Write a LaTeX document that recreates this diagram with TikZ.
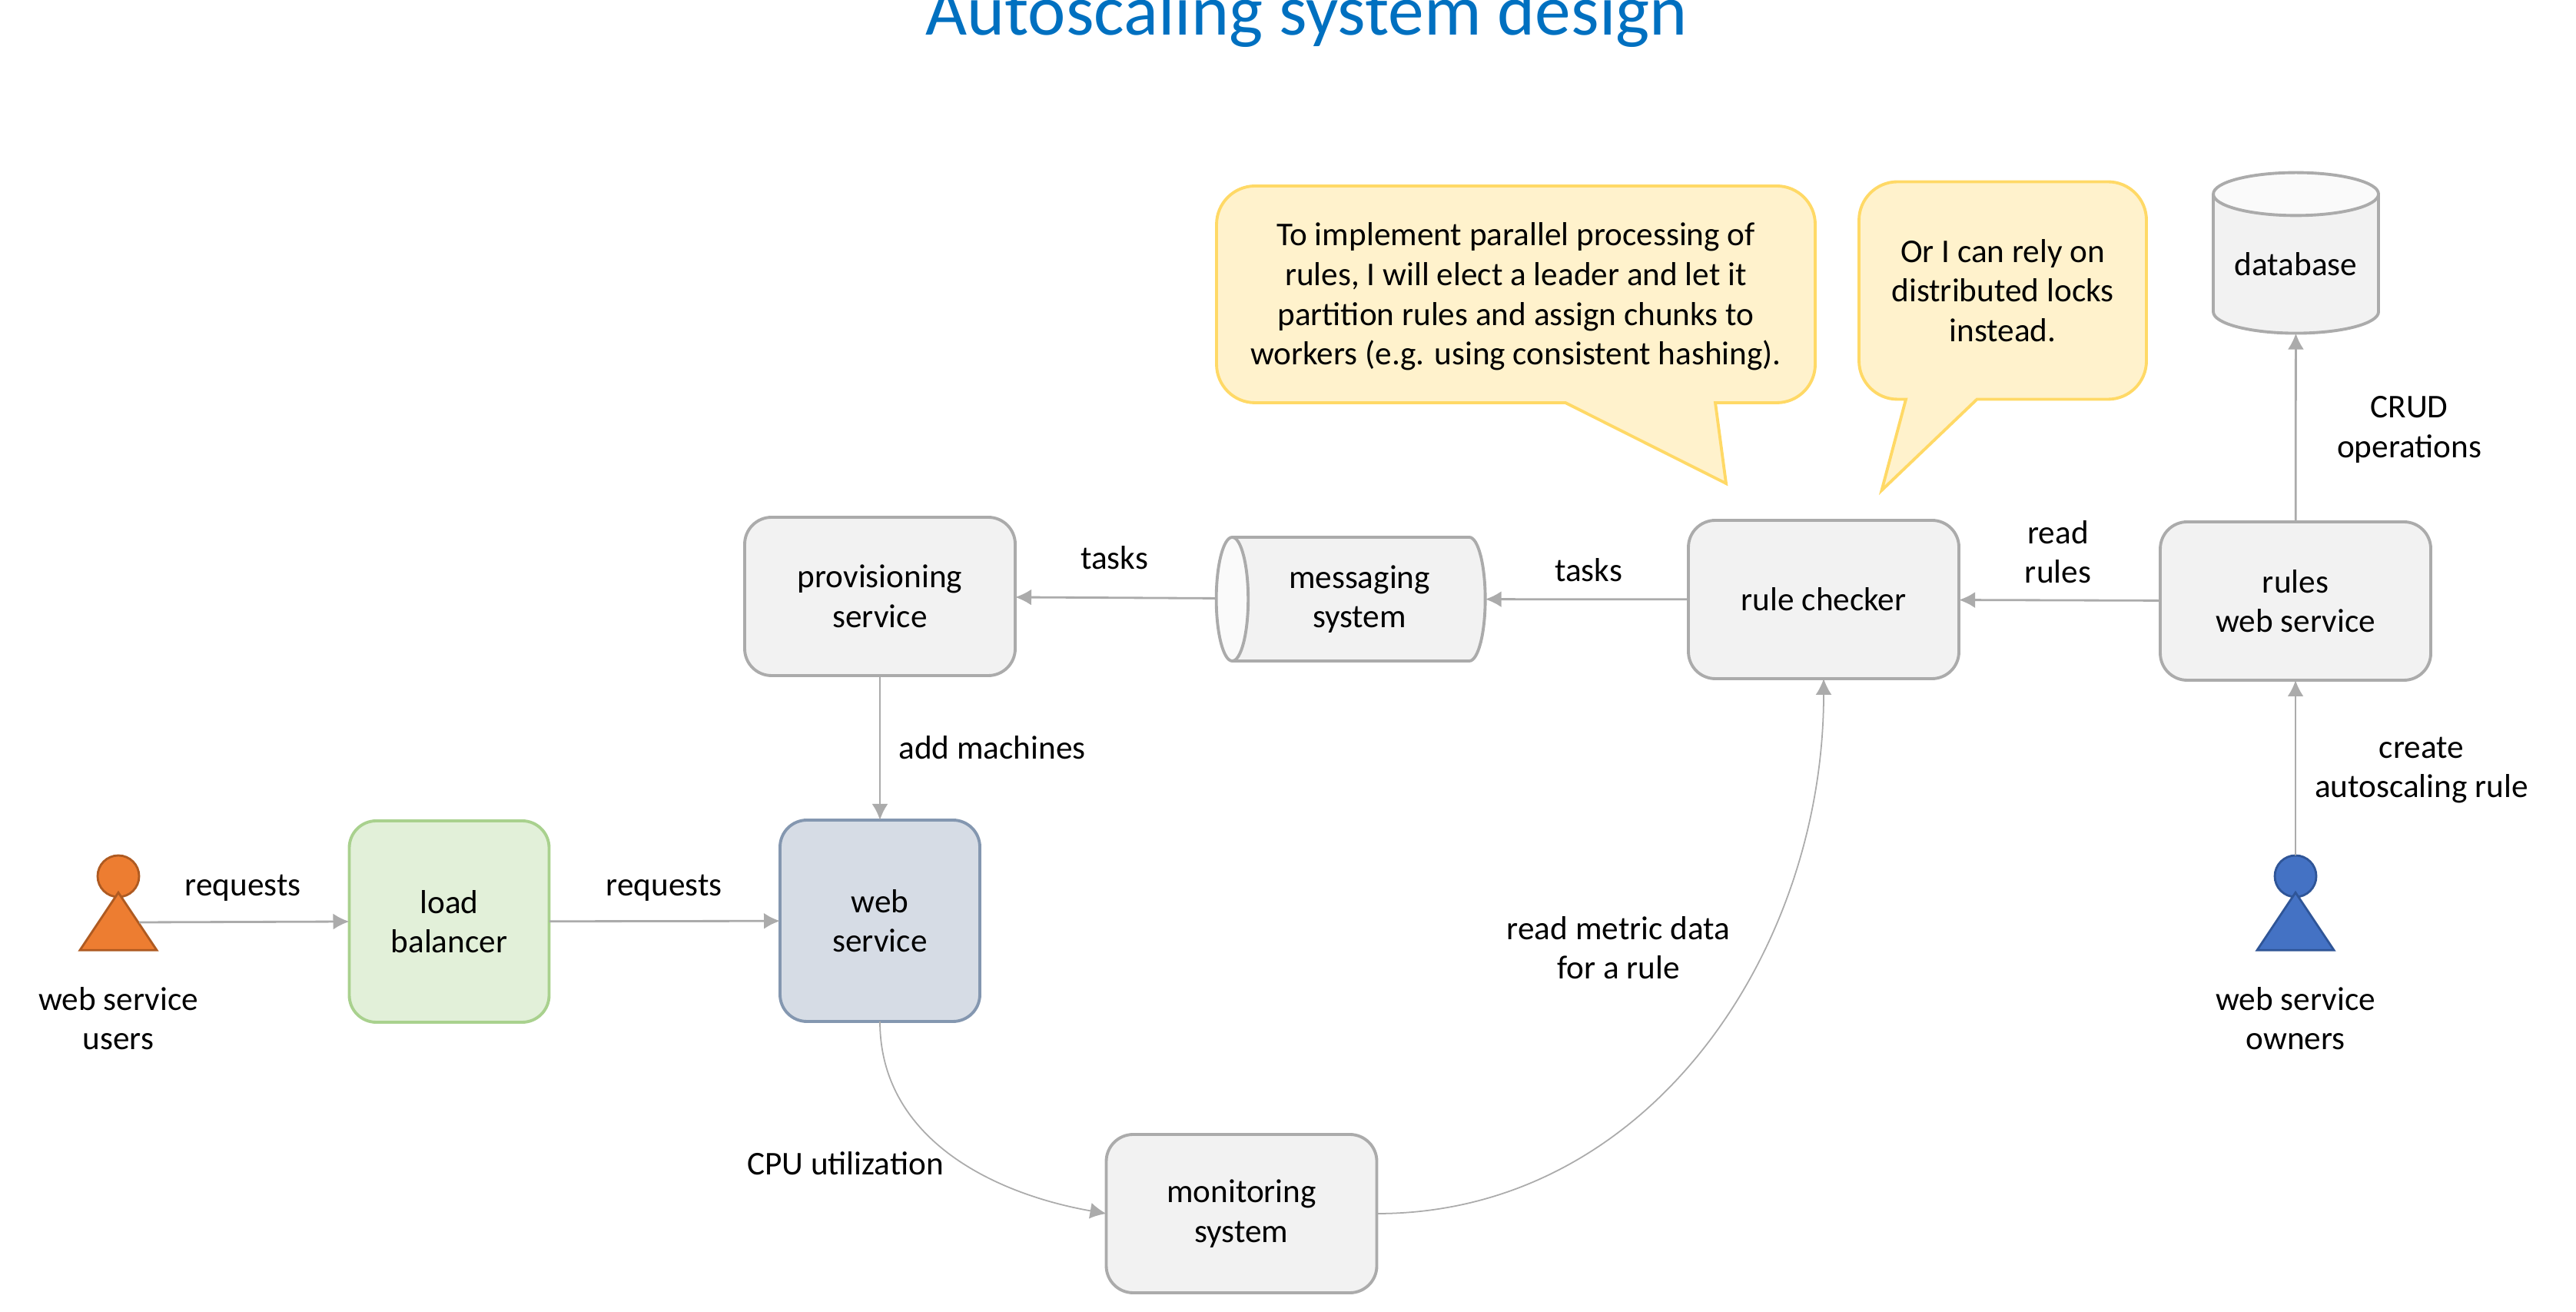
\documentclass[tikz,border=0pt]{standalone}
\usepackage{xcolor}
\usepackage{fontspec}
\setmainfont{Carlito}
\usepackage{tikz}
\usetikzlibrary{calc}
\usetikzlibrary{arrows.meta,shapes.geometric,positioning,backgrounds}
\definecolor{boxfill}{HTML}{F2F2F2}
\definecolor{boxline}{HTML}{ABABAB}
\definecolor{arrowline}{HTML}{ABABAB}
\definecolor{titleblue}{HTML}{0070C0}
\definecolor{lbfill}{HTML}{E2F0D9}
\definecolor{lbline}{HTML}{A9D18E}
\definecolor{webfill}{HTML}{D6DCE5}
\definecolor{webline}{HTML}{8497B0}
\definecolor{notefill}{HTML}{FFF2CC}
\definecolor{noteline}{HTML}{FFD966}
\definecolor{userfill}{HTML}{ED7D31}
\definecolor{userline}{HTML}{AE5A21}
\definecolor{ownerfill}{HTML}{4472C4}
\definecolor{ownerline}{HTML}{2F5597}

\begin{document}
\begin{tikzpicture}[-,auto,node distance=1cm,
                    every node/.style={font=\fontsize{12.3}{14.7}\selectfont,align=center,outer sep=0pt},
                    main node/.style={rectangle,draw=boxline,fill=boxfill,line width=1.1pt,rounded corners=0.35cm,minimum width=3.52cm,minimum height=2.06cm,inner sep=0pt},
                    square node/.style={main node,minimum width=2.6cm,minimum height=2.62cm},
                    store node/.style={cylinder,draw=boxline,line width=1.1pt,cylinder uses custom fill,cylinder body fill=boxfill,cylinder end fill=boxfill!40,inner sep=0pt,anchor=center},
                    note node/.style={inner sep=0pt},
                    note line/.style={draw=noteline,fill=notefill,line width=1.1pt},
                    head node/.style={circle,line width=0.8pt,minimum size=0.54cm,inner sep=0pt},
                    body node/.style={isosceles triangle,isosceles triangle stretches,shape border rotate=90,line width=0.8pt,minimum width=1.0cm,minimum height=0.75cm,inner sep=0pt},
                    flow/.style={draw=arrowline,line width=0.8pt,-{Latex[length=0.21cm,width=0.21cm,color=arrowline]}},
                    thin flow/.style={flow,line width=0.5pt}]

  \useasboundingbox (0,0) rectangle (33.52,17.06);

  \node (title) [anchor=base,font=\fontsize{26.6}{30}\selectfont,text=titleblue] at (17.0,16.6) {Autoscaling system design};

  % service boxes
  \node[main node] (prov) at (11.45,9.30) {provisioning\\service};
  \node[main node] (checker) at (23.73,9.26) {rule checker};
  \node[main node] (rules) at (29.87,9.24) {rules\\web service};
  \node[main node] (monitor) at (16.155,1.27) {monitoring\\system};
  \node[square node,draw=lbline,fill=lbfill] (lb) at (5.845,5.07) {load\\balancer};
  \node[square node,draw=webline,fill=webfill] (web) at (11.45,5.08) {web\\service};

  \node[store node,shape border rotate=180,aspect=0.47,minimum width=1.61cm,minimum height=3.5cm] (msg) at (17.69,9.265) {messaging\\system};
  \node[store node,shape border rotate=90,aspect=0.35,minimum width=2.15cm,minimum height=2.09cm] (db) at (29.875,13.62) {database};

  % people
  \node[head node,draw=userline,fill=userfill] (userhead) at (1.54,5.66) {};
  \node[body node,draw=userline,fill=userfill] (userbody) at (1.54,4.965) {};
  \node[head node,draw=ownerline,fill=ownerfill] (ownerhead) at (29.87,5.66) {};
  \node[body node,draw=ownerline,fill=ownerfill] (ownerbody) at (29.87,4.965) {};
  \coordinate (userport) at (1.81,5.06);
  \node (users) at (1.54,3.81) {web service\\users};
  \node (owners) at (29.87,3.81) {web service\\owners};

  % speech bubbles
  \node[note node,minimum width=7.79cm,minimum height=2.82cm] (leadernote) at (19.725,13.20) {To implement parallel processing of\\rules, I will elect a leader and let it\\partition rules and assign chunks to\\workers (e.g. using consistent hashing).};
  \node[note node,minimum width=3.74cm,minimum height=2.83cm] (locknote) at (26.06,13.28) {Or I can rely on\\distributed locks\\instead.};
  \begin{scope}[on background layer]
    \draw[note line,rounded corners=0.5cm] ([yshift=0.03cm]leadernote.north) -- ([yshift=0.03cm]leadernote.north east) -- ([yshift=0.03cm]leadernote.south east) [sharp corners] -- (22.32,11.82) -- (22.46,10.77) -- (20.37,11.82) [rounded corners=0.5cm] -- ([yshift=0.03cm]leadernote.south west) -- ([yshift=0.03cm]leadernote.north west) -- cycle;
    \draw[note line,rounded corners=0.5cm] (locknote.north) -- (locknote.north east) -- (locknote.south east) [sharp corners] -- (25.725,11.865) -- (24.485,10.68) -- (24.80,11.865) [rounded corners=0.5cm] -- (locknote.south west) -- (locknote.north west) -- cycle;
  \end{scope}

  % labels
  \node (req1) at (3.16,5.51) {requests};
  \node (req2) at (8.64,5.51) {requests};
  \node (tasks1) at (14.50,9.80) {tasks};
  \node (tasks2) at (20.67,9.64) {tasks};
  \node (readrules) at (26.78,9.88) {read\\rules};
  \node (crud) at (31.35,11.47) {CRUD\\operations};
  \node (create) at (31.51,7.04) {create\\autoscaling rule};
  \node (addm) at (12.91,7.33) {add machines};
  \node (metric) at (21.06,4.73) {read metric data\\for a rule};
  \node (cpu) at (11.00,1.92) {CPU utilization};

  \path[every edge/.style={flow}]
  (userport) edge (lb.west)
  (lb) edge (web)
  (prov) edge (web)
  (msg) edge (prov)
  (checker) edge (msg)
  (rules) edge (checker)
      edge (db)
  (ownerhead) edge (rules);

  \path[every edge/.style={thin flow}]
  (web.south) edge[out=-90,in=170] (monitor.west)
  (monitor.east) edge[out=0,in=-90] (checker.south);

\end{tikzpicture}
\end{document}
